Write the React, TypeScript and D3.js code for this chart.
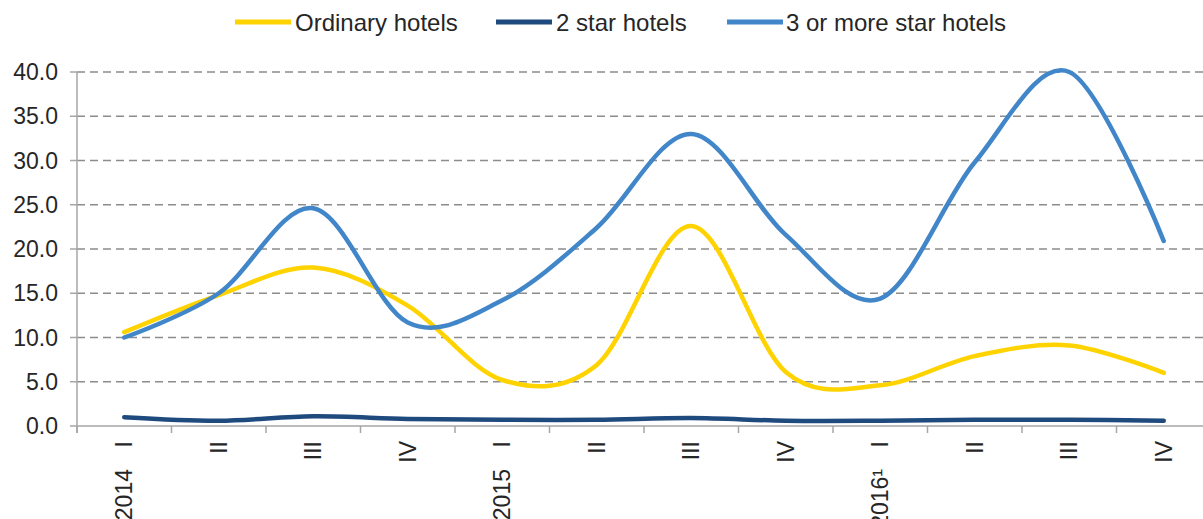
import React from "react";
import * as d3 from "d3";

const quarters = ["I", "II", "III", "IV", "I", "II", "III", "IV", "I", "II", "III", "IV"];
const years = ["2014", "", "", "", "2015", "", "", "", "2016¹", "", "", ""];
const ordinary = [10.6, 14.8, 17.9, 13.6, 5.2, 6.9, 22.6, 6.1, 4.6, 7.9, 9.1, 6.0];
const twoStar = [1.0, 0.6, 1.1, 0.8, 0.7, 0.7, 0.9, 0.6, 0.6, 0.7, 0.7, 0.6];
const threeStar = [10.0, 15.0, 24.6, 11.7, 14.2, 22.4, 33.0, 21.6, 14.4, 29.8, 40.0, 20.9];
const yTicks = [0, 5, 10, 15, 20, 25, 30, 35, 40];

const series = [
  { name: "Ordinary hotels", values: ordinary, color: "#FFD300" },
  { name: "2 star hotels", values: twoStar, color: "#1F4A7E" },
  { name: "3 or more star hotels", values: threeStar, color: "#4186C8" },
];

const W = 1203;
const H = 519;
const left = 77;
const bandW = 94.5;
const top = 72;
const bottom = 426;
const font = "'Liberation Sans', Arial, sans-serif";
const fs = 23;

export default function App() {
  const x = d3
    .scaleBand<number>()
    .domain(d3.range(quarters.length))
    .range([left, left + bandW * quarters.length])
    .padding(0);
  const y = d3.scaleLinear().domain([0, 40]).range([bottom, top]);
  const cx = (i: number) => (x(i) as number) + x.bandwidth() / 2;
  const line = d3
    .line<number>()
    .x((_, i) => cx(i))
    .y((d) => y(d))
    .curve(d3.curveCatmullRom.alpha(0));

  const legendItems = [
    { sx: 235, tx: 295 },
    { sx: 496, tx: 556 },
    { sx: 727, tx: 786 },
  ];

  return (
    <svg
      width={W}
      height={H}
      style={{ position: "absolute", left: 0, top: 0, background: "#fff" }}
    >
      {series.map((s, i) => (
        <g key={s.name}>
          <line
            x1={legendItems[i].sx}
            x2={legendItems[i].sx + 56}
            y1={22}
            y2={22}
            stroke={s.color}
            strokeWidth={5}
          />
          <text
            x={legendItems[i].tx}
            y={23}
            dy="0.35em"
            fontFamily={font}
            fontSize={24}
            fill="#262626"
          >
            {s.name}
          </text>
        </g>
      ))}
      {yTicks.map((t) => (
        <g key={t}>
          {t > 0 && (
            <line
              x1={left}
              x2={W}
              y1={y(t)}
              y2={y(t)}
              stroke="#8c8c8c"
              strokeWidth={1.5}
              strokeDasharray="8,5"
            />
          )}
          <line x1={left - 7} x2={left} y1={y(t)} y2={y(t)} stroke="#a6a6a6" strokeWidth={1.5} />
          <text
            x={58}
            y={y(t)}
            dy="0.35em"
            textAnchor="end"
            fontFamily={font}
            fontSize={fs}
            fill="#262626"
          >
            {t.toFixed(1)}
          </text>
        </g>
      ))}
      <line x1={left} x2={left} y1={top} y2={bottom + 7} stroke="#a6a6a6" strokeWidth={1.5} />
      <line x1={left} x2={W} y1={bottom} y2={bottom} stroke="#a6a6a6" strokeWidth={1.5} />
      {d3.range(quarters.length + 1).map((i) => {
        const xx = left + bandW * i;
        return (
          <line key={i} x1={xx} x2={xx} y1={bottom} y2={bottom + 7} stroke="#a6a6a6" strokeWidth={1.5} />
        );
      })}
      {quarters.map((q, i) => (
        <g key={i} transform={`translate(${cx(i)},0)`}>
          <text
            transform={`translate(0,441) rotate(-90)`}
            dy="0.35em"
            textAnchor="end"
            fontFamily={font}
            fontSize={fs}
            fill="#262626"
          >
            {q}
          </text>
          {years[i] && (
            <text
              transform={`translate(0,469) rotate(-90)`}
              dy="0.35em"
              textAnchor="end"
              fontFamily={font}
              fontSize={fs}
              fill="#262626"
            >
              {years[i]}
            </text>
          )}
        </g>
      ))}
      {series.map((s) => (
        <path
          key={s.name}
          d={line(s.values) || ""}
          fill="none"
          stroke={s.color}
          strokeWidth={4.5}
          strokeLinecap="round"
          strokeLinejoin="round"
        />
      ))}
    </svg>
  );
}
